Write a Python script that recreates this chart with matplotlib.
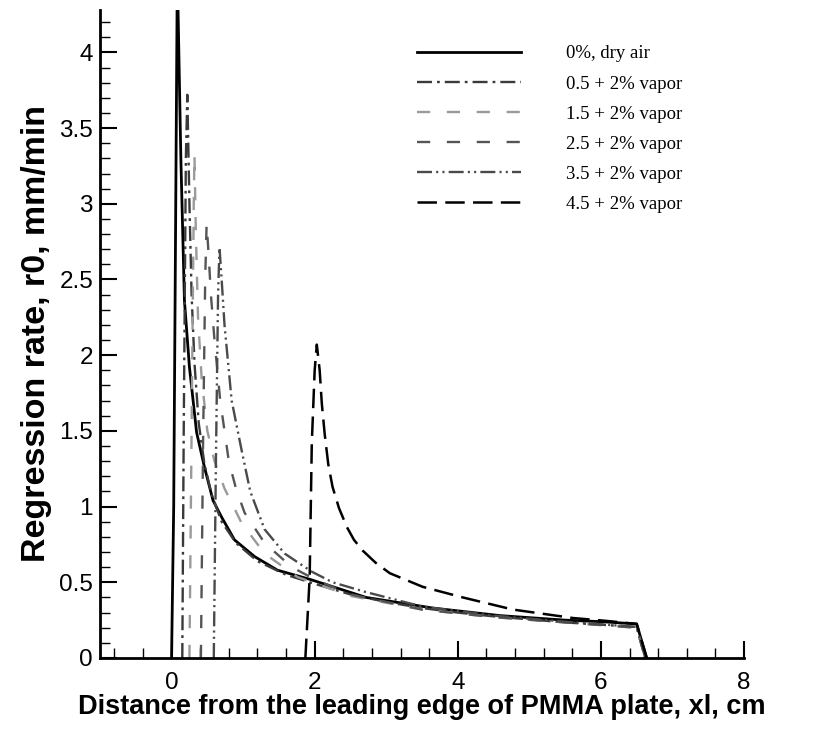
import numpy as np
import matplotlib
matplotlib.use("Agg")
import matplotlib.pyplot as plt
from matplotlib.ticker import MultipleLocator, FormatStrFormatter

# regression rate along the PMMA plate, one curve per vapor case
x_dry = [0.0, 0.03, 0.05, 0.07, 0.08, 0.09, 0.13, 0.18, 0.25, 0.35, 0.46, 0.58, 0.70,
         0.88, 1.16, 1.48, 1.93, 2.72, 3.65, 4.59, 5.50, 6.00, 6.50, 6.64]
r_dry = [0.0, 1.0, 2.4, 3.8, 4.5, 4.3, 3.3, 2.36, 1.92, 1.49, 1.26, 1.04, 0.93,
         0.78, 0.67, 0.58, 0.52, 0.40, 0.33, 0.28, 0.25, 0.24, 0.225, 0.0]

x_05 = [0.15, 0.17, 0.20, 0.22, 0.25, 0.28, 0.32, 0.38, 0.46, 0.56, 0.70, 0.90, 1.20,
        1.60, 2.00, 2.50, 3.00, 3.50, 4.00, 4.50, 5.00, 5.50, 6.00, 6.50, 6.62]
r_05 = [0.0, 1.5, 3.3, 3.72, 3.0, 2.4, 1.95, 1.55, 1.28, 1.08, 0.90, 0.76, 0.64,
        0.55, 0.49, 0.42, 0.37, 0.33, 0.30, 0.275, 0.255, 0.235, 0.22, 0.205, 0.0]

x_15 = [0.25, 0.28, 0.31, 0.32, 0.34, 0.37, 0.42, 0.50, 0.60, 0.74, 0.98, 1.30, 1.76,
        2.50, 3.50, 4.50, 5.50, 6.50, 6.62]
r_15 = [0.0, 1.5, 3.0, 3.33, 2.8, 2.25, 1.85, 1.50, 1.30, 1.12, 0.89, 0.69, 0.535,
        0.41, 0.32, 0.27, 0.235, 0.20, 0.0]

x_25 = [0.41, 0.44, 0.47, 0.49, 0.52, 0.55, 0.60, 0.68, 0.80, 0.90, 1.02, 1.30, 1.68,
        2.00, 2.50, 3.50, 4.50, 5.50, 6.50, 6.62]
r_25 = [0.0, 1.4, 2.5, 2.87, 2.65, 2.4, 2.1, 1.7, 1.3, 1.12, 0.96, 0.76, 0.60,
        0.52, 0.42, 0.32, 0.27, 0.235, 0.20, 0.0]

x_35 = [0.59, 0.62, 0.65, 0.67, 0.70, 0.74, 0.84, 0.98, 1.10, 1.30, 1.58, 1.96, 2.25,
        2.72, 3.50, 4.50, 5.50, 6.50, 6.62]
r_35 = [0.0, 1.3, 2.4, 2.71, 2.5, 2.2, 1.7, 1.37, 1.10, 0.85, 0.69, 0.57, 0.50,
        0.435, 0.34, 0.28, 0.24, 0.205, 0.0]

x_45 = [1.87, 1.93, 1.96, 2.00, 2.03, 2.07, 2.10, 2.14, 2.19, 2.25, 2.34, 2.45, 2.55,
        2.67, 2.85, 3.05, 3.51, 4.07, 4.77, 5.61, 6.08, 6.50, 6.64]
r_45 = [0.0, 0.53, 1.42, 1.9, 2.07, 1.90, 1.68, 1.48, 1.28, 1.13, 0.99, 0.865, 0.78,
        0.71, 0.63, 0.56, 0.47, 0.40, 0.32, 0.264, 0.245, 0.225, 0.0]

labels = ["0%, dry air", "0.5 + 2% vapor", "1.5 + 2% vapor",
          "2.5 + 2% vapor", "3.5 + 2% vapor", "4.5 + 2% vapor"]

plt.rcParams['lines.scale_dashes'] = False

fig = plt.figure(figsize=(8.38, 7.33), dpi=100)
ax = fig.add_axes([100 / 838, 1 - 658 / 733, 644 / 838, 648 / 733])

ax.plot(x_dry, r_dry, color='black', lw=2.0, label=labels[0])
ax.plot(x_05, r_05, color='#3a3a3a', lw=1.7, ls=(0, (10.8, 3.6, 2.0, 3.6)), label=labels[1])
ax.plot(x_15, r_15, color='#9a9a9a', lw=1.7, ls=(0, (9.5, 12)), label=labels[2])
ax.plot(x_25, r_25, color='#555555', lw=1.7, ls=(0, (9.5, 12)), label=labels[3])
ax.plot(x_35, r_35, color='#4a4a4a', lw=1.7, ls=(0, (10.8, 3.0, 1.5, 3.0, 1.5, 3.0)), label=labels[4])
ax.plot(x_45, r_45, color='black', lw=1.8, ls=(0, (14, 6)), label=labels[5])

ax.set_xlim(-1, 8)
ax.set_ylim(0, 4.28)
ax.spines['top'].set_visible(False)
ax.spines['right'].set_visible(False)
for s in ('left', 'bottom'):
    ax.spines[s].set_linewidth(2)

ax.xaxis.set_major_locator(MultipleLocator(2))
ax.xaxis.set_minor_locator(MultipleLocator(0.4))
ax.yaxis.set_major_locator(MultipleLocator(0.5))
ax.yaxis.set_minor_locator(MultipleLocator(0.1))
ax.yaxis.set_major_formatter(FormatStrFormatter('%g'))
ax.xaxis.set_major_formatter(FormatStrFormatter('%g'))
ax.tick_params(which='major', direction='in', length=12, width=1.5, labelsize=17.5)
ax.tick_params(axis='x', which='major', pad=10)
ax.tick_params(axis='y', which='major', pad=5)
ax.tick_params(which='minor', direction='in', length=7, width=1)
for t in ax.get_xticklabels() + ax.get_yticklabels():
    t.set_fontfamily('Liberation Sans')

ax.set_xlabel("Distance from the leading edge of PMMA plate, xl, cm",
              fontfamily='Liberation Sans', fontweight='bold', fontsize=19.5, labelpad=0)
ax.set_ylabel("Regression rate, r0, mm/min",
              fontfamily='Liberation Sans', fontweight='bold', fontsize=24.5, labelpad=5)

ax.legend(loc='upper left', bbox_to_anchor=(408 / 838, 1 - 36 / 733),
          bbox_transform=fig.transFigure, frameon=False, borderpad=0,
          handlelength=5.55, handletextpad=2.4, labelspacing=0.69,
          prop={'family': 'Liberation Serif', 'size': 13.5})

fig.savefig('out.png', dpi=100)
